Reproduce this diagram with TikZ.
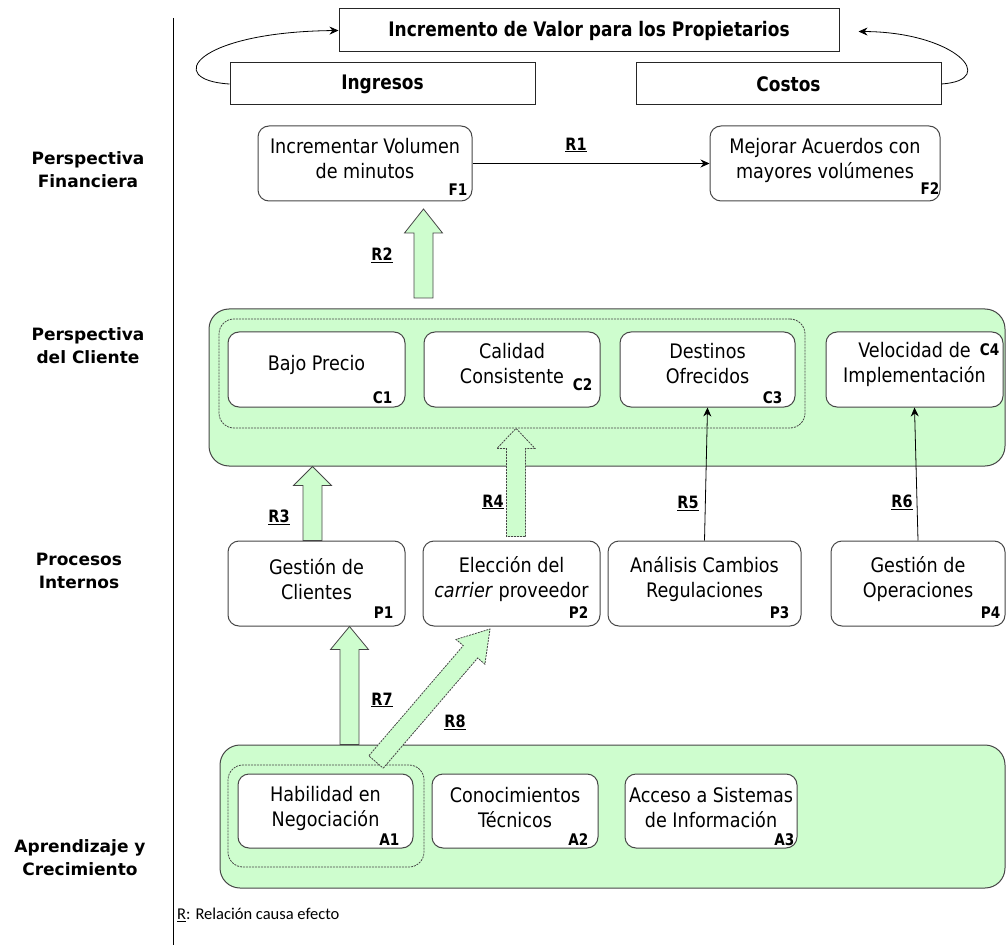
\documentclass[tikz,border=0pt]{standalone}
\usepackage{fontspec}
\setmainfont{DejaVu Sans}
\newfontfamily\hdrf[FakeStretch=0.85]{DejaVu Sans}
\newfontfamily\boxf[FakeStretch=0.88]{DejaVu Sans}
\newfontfamily\calf{Carlito}
\usetikzlibrary{calc,arrows.meta}
\definecolor{lgreen}{RGB}{206,253,206}
\definecolor{bord}{RGB}{70,70,70}
\tikzset{
  box/.style={draw=bord, line width=1pt, fill=white, rounded corners=11pt, inner sep=0pt},
  btext/.style={inner sep=0pt, align=center, font=\boxf\fontsize{20}{25}\selectfont},
  sqbox/.style={draw=black!85, line width=1pt, fill=white, inner sep=0pt, font=\hdrf\bfseries\fontsize{20}{24}\selectfont},
  region/.style={draw=bord, line width=1pt, fill=lgreen, rounded corners=20pt},
  dregion/.style={draw=bord, line width=0.8pt, dash pattern=on 2pt off 1pt, rounded corners=15pt},
  tag/.style={font=\hdrf\bfseries\fontsize{16}{18}\selectfont, inner sep=0pt},
  rlab/.style={font=\hdrf\bfseries\fontsize{17}{20}\selectfont, inner sep=0pt},
  side/.style={font=\bfseries\fontsize{17}{23}\selectfont, align=center, inner sep=0pt},
  conn/.style={line width=0.8pt, -{Stealth[length=9pt,width=8pt]}},
  barr/.style={draw=bord, line width=0.8pt, fill=lgreen},
  dbarr/.style={barr, dash pattern=on 2pt off 1pt},
}
% box: name, centre, width, height, text, text lift
\newcommand\bx[6]{%
  \node[box, minimum width=#3, minimum height=#4] (#1) at (#2) {};
  \node[btext] (#1x) at ($(#1.center)+(0,-#6)$) {#5};}
\newcommand\barrow[4][22]{%
  \path let \p1=(#3), \p2=(#4) in \pgfextra{%
    \pgfmathsetmacro\baAngT{atan2(\y2-\y1,\x2-\x1)}%
    \pgfmathsetmacro\baLenT{veclen(\x2-\x1,\y2-\y1)}%
    \global\let\baAng\baAngT \global\let\baLen\baLenT};
  \begin{scope}[shift={(#3)}, rotate=\baAng]
    \draw[#2] (0pt,-9.5pt) -- ({\baLen pt-#1 pt},-9.5pt) -- ({\baLen pt-#1 pt},-19pt) -- (\baLen pt,0pt)
      -- ({\baLen pt-#1 pt},19pt) -- ({\baLen pt-#1 pt},9.5pt) -- (0pt,9.5pt) -- cycle;
  \end{scope}}
\begin{document}
\begin{tikzpicture}[x=1pt,y=-1pt]
\useasboundingbox (0,0) rectangle (1006,949);
% separator
\draw[line width=0.9pt] (173,18) -- (173,945);
% side labels
\node[side] (L1) at (88,170) {Perspectiva\\Financiera};
\node[side] (L2) at (88,346) {Perspectiva\\del Cliente};
\node[side] (L3) at (79,571) {Procesos\\Internos};
\node[side] (L4) at (80,858) {Aprendizaje y\\Crecimiento};
% top
\node[sqbox, minimum width=500, minimum height=43] (Top) at (589,30.5) {Incremento de Valor para los Propietarios};
\node[sqbox, minimum width=305, minimum height=42] (Ing) at (382.5,84) {Ingresos};
\node[sqbox, minimum width=305, minimum height=42] (Cos) at (788.5,84) {Costos};
\coordinate (topR) at ($(Top.east)+(19,1)$);
\draw[conn] (Ing.west) .. controls (163,80) and (195,32) .. (Top.west);
\draw[conn] (Cos.east) .. controls (1000,80) and (955,32) .. (topR);
% financial
\bx{F1}{365,163.5}{214}{75}{Incrementar Volumen\\de minutos}{5}
\bx{F2}{825,163.5}{230}{75}{Mejorar Acuerdos con\\mayores volúmenes}{3}
\node[tag, anchor=south east] (tF1) at ($(F1.south east)+(-5,-6)$) {F1};
\node[tag, anchor=south east] (tF2) at ($(F2.south east)+(-1,-7)$) {F2};
\draw[conn] (F1.east) -- (F2.west);
\node[rlab] (R1) at (576,145) {\underline{R1}};
% customer
\node[region, minimum width=796, minimum height=157] (CR) at (607,387.5) {};
\node[dregion, minimum width=586, minimum height=109] (CD) at (512,373.5) {};
\bx{C1}{316.5,369.5}{177}{75}{Bajo Precio}{5}
\bx{C2}{512,369.5}{176}{75}{Calidad\\Consistente}{6}
\bx{C3}{707.5,369.5}{175}{75}{Destinos\\Ofrecidos}{6}
\bx{C4}{914.5,369.5}{177}{75}{Velocidad de\\Implementación}{5}
\node[tag, anchor=south east] (tC1) at ($(C1.south east)+(-13,-4)$) {C1};
\node[tag, anchor=south east] (tC2) at ($(C2.south east)+(-8,-17)$) {C2};
\node[tag, anchor=south east] (tC3) at ($(C3.south east)+(-13,-4)$) {C3};
\node[tag, anchor=north east] (tC4) at ($(C4.north east)+(-4,12)$) {C4};
% processes
\bx{P1}{316.5,583.5}{177}{85}{Gestión de\\Clientes}{4}
\bx{P2}{511.5,583.5}{177}{85}{Elección del\\\textit{carrier} proveedor}{4}
\bx{P3}{704.5,583.5}{193}{85}{Análisis Cambios\\Regulaciones}{4}
\bx{P4}{918,583.5}{174}{85}{Gestión de\\Operaciones}{4}
\node[tag, anchor=south east] (tP1) at ($(P1.south east)+(-12,-8)$) {P1};
\node[tag, anchor=south east] (tP2) at ($(P2.south east)+(-12,-8)$) {P2};
\node[tag, anchor=south east] (tP3) at ($(P3.south east)+(-12,-8)$) {P3};
\node[tag, anchor=south east] (tP4) at ($(P4.south east)+(-5,-8)$) {P4};
% learning
\node[region, minimum width=785, minimum height=143] (AR) at (612.5,816.5) {};
\node[dregion, minimum width=196, minimum height=102] (AD) at (326,816) {};
\bx{A1}{325.5,811}{175}{74}{Habilidad en\\Negociación}{3}
\bx{A2}{515,811}{166}{74}{Conocimientos\\Técnicos}{3}
\bx{A3}{711,811}{172}{74}{Acceso a Sistemas\\de Información}{3}
\node[tag, anchor=south east] (tA1) at ($(A1.south east)+(-14,-3)$) {A1};
\node[tag, anchor=south east] (tA2) at ($(A2.south east)+(-10,-3)$) {A2};
\node[tag, anchor=south east] (tA3) at ($(A3.south east)+(-3,-3)$) {A3};
% arrow end points
\coordinate (r2s) at (423.5,298);
\coordinate (r2e) at (423.5,209);
\coordinate (r3s) at ($(P1.north)+(-4,0)$);
\coordinate (r3e) at (r3s |- CR.south);
\coordinate (r4s) at ($(P2.north)+(4.5,-4)$);
\coordinate (r4e) at (r4s |- CD.south);
\coordinate (r7e) at ($(P1.south)+(33,0)$);
\coordinate (r7s) at (r7e |- AR.north);
\coordinate (r8s) at (376,762);
\coordinate (r8e) at (490,629);
% block arrows
\barrow[24]{barr}{r2s}{r2e}
\barrow[19]{barr}{r3s}{r3e}
\barrow[20]{dbarr}{r4s}{r4e}
\barrow[23]{barr}{r7s}{r7e}
\barrow[30]{dbarr}{r8s}{r8e}
% thin arrows
\draw[conn] (P3.north) -- (C3.south);
\draw[conn] (P4.north) -- (C4.south);
% relation labels
\node[rlab] (R2) at (382,255) {\underline{R2}};
\node[rlab] (R3) at (279,517) {\underline{R3}};
\node[rlab] (R4) at (493,502) {\underline{R4}};
\node[rlab] (R5) at (688,503) {\underline{R5}};
\node[rlab] (R6) at (902,502) {\underline{R6}};
\node[rlab] (R7) at (382,700) {\underline{R7}};
\node[rlab] (R8) at (455,722) {\underline{R8}};
% legend
\node[anchor=west, inner sep=0pt, font=\calf\fontsize{16.5}{18}\selectfont] (leg) at (177,915) {\underline{R}: Relación causa efecto};
\end{tikzpicture}
\end{document}
